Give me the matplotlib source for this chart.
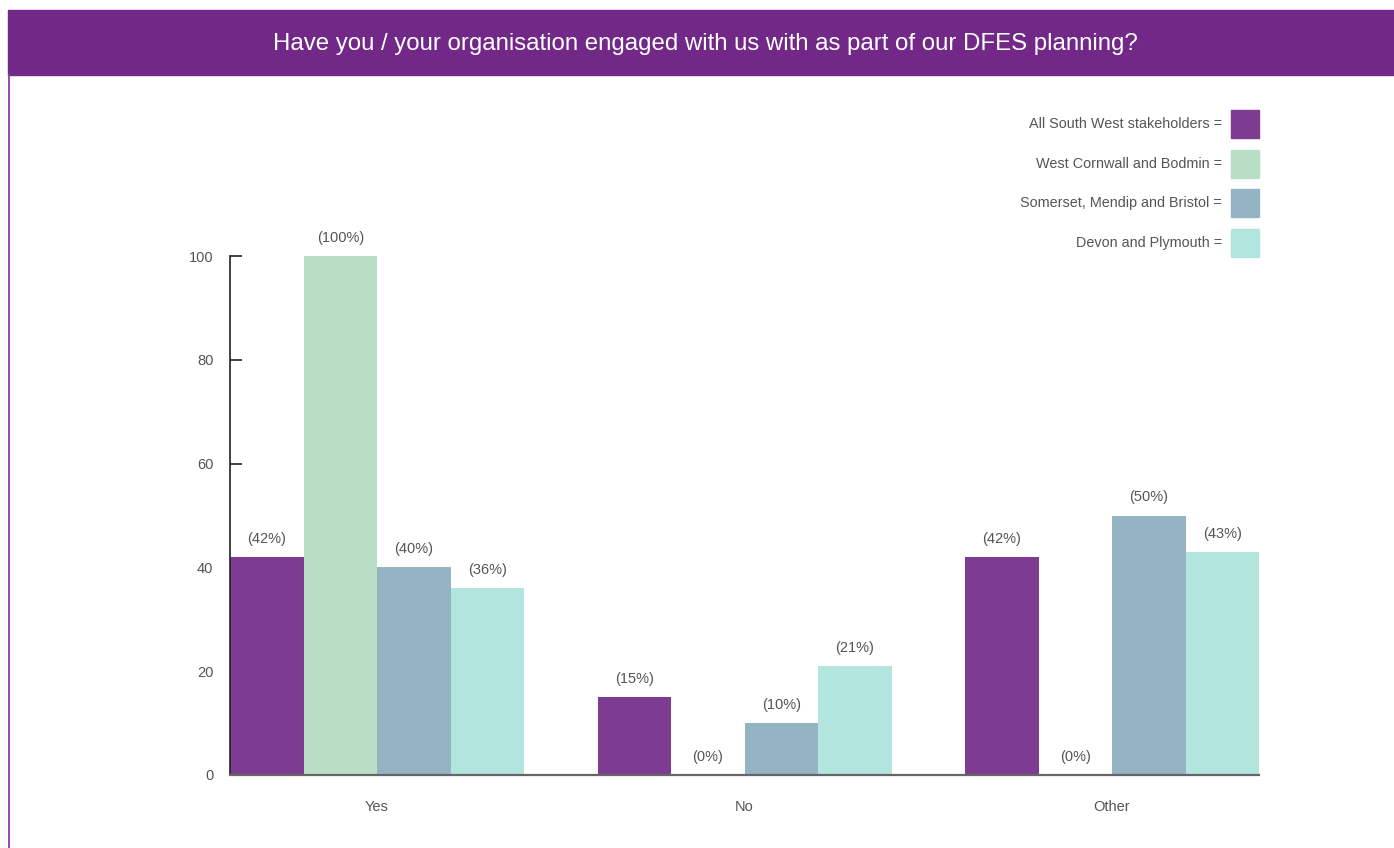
import matplotlib
matplotlib.use("Agg")
import matplotlib.pyplot as plt
from matplotlib.patches import Rectangle
from matplotlib.lines import Line2D
import numpy as np

plt.rcParams['font.family'] = ['Liberation Sans', 'DejaVu Sans']

title = "Have you / your organisation engaged with us with as part of our DFES planning?"
categories = ["Yes", "No", "Other"]
series_names = [
    "All South West stakeholders",
    "West Cornwall and Bodmin",
    "Somerset, Mendip and Bristol",
    "Devon and Plymouth",
]
all_south_west = [42, 15, 42]
west_cornwall = [100, 0, 0]
somerset_mendip = [40, 10, 50]
devon_plymouth = [36, 21, 43]
series_values = [all_south_west, west_cornwall, somerset_mendip, devon_plymouth]
colors = ["#7D3C92", "#B8DFC5", "#94B4C4", "#B3E5DF"]
y_ticks = [0, 20, 40, 60, 80, 100]

W, H = 1394, 848
fig = plt.figure(figsize=(W / 100, H / 100), dpi=100)

# purple header band and left rule
fig.patches.append(Rectangle((8 / W, 1 - 75 / H), 1 - 8 / W, 65 / H,
                             transform=fig.transFigure, color="#722887", zorder=0))
fig.lines.append(Line2D([8.5 / W, 8.5 / W], [0, 1 - 75 / H], transform=fig.transFigure,
                        color="#8A3FA3", lw=1.3))
fig.text(705 / W, 1 - 44 / H, title, color="white", fontsize=17.3,
         ha="center", va="center")

ax = fig.add_axes([230 / W, 1 - 775 / H, 1029 / W, 519 / H])
x = np.arange(len(categories))
bw = 0.2
for i, (vals, col) in enumerate(zip(series_values, colors)):
    pos = x - 0.3 + i * bw
    ax.bar(pos, vals, width=bw, color=col, zorder=2)
    for p, v in zip(pos, vals):
        ax.annotate(f"({v}%)", (p, v), xytext=(0, 13), textcoords="offset points",
                    ha="center", va="center", fontsize=10.5, color="#555555")

ax.set_xlim(-0.4, 2.4)
ax.set_ylim(0, 100)
ax.axhline(0, color="#666666", lw=1.6, zorder=3, clip_on=False)
for s in ["top", "right", "bottom"]:
    ax.spines[s].set_visible(False)
ax.spines["left"].set_color("#222222")
ax.spines["left"].set_linewidth(1.2)
ax.set_yticks(y_ticks)
ax.tick_params(axis="y", direction="in", length=8.5, width=1.2, color="#222222",
               pad=12, labelsize=10.5, labelcolor="#555555")
ax.set_xticks(x)
ax.set_xticklabels(categories)
ax.tick_params(axis="x", length=0, pad=18, labelsize=10.5, labelcolor="#555555")

# legend: right-aligned labels with swatches
leg_centers = [124, 164, 203, 243]
for name, col, cy in zip(series_names, colors, leg_centers):
    fig.patches.append(Rectangle((1231 / W, 1 - (cy + 14) / H), 28 / W, 28 / H,
                                 transform=fig.transFigure, color=col))
    fig.text(1222 / W, 1 - cy / H, f"{name} =", ha="right", va="center",
             fontsize=10.4, color="#555555")

fig.savefig("out.png", dpi=100)
